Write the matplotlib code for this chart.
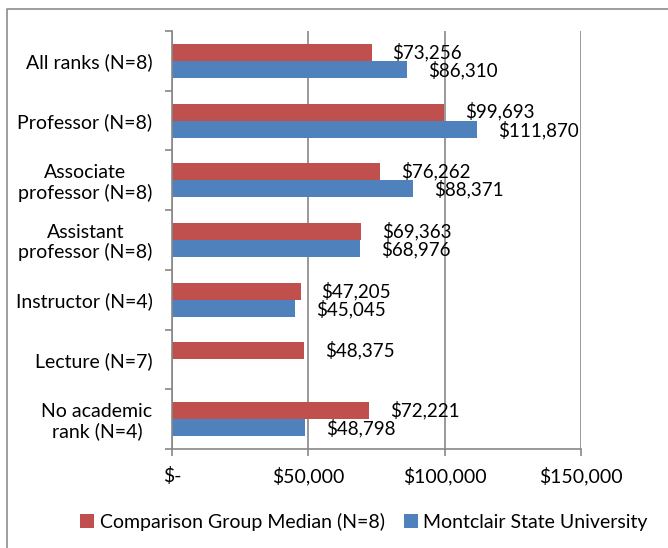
import matplotlib
matplotlib.use("Agg")
import matplotlib.pyplot as plt
from matplotlib.lines import Line2D
import numpy as np

categories = ["All ranks (N=8)", "Professor (N=8)", "Associate\nprofessor (N=8)",
              "Assistant\nprofessor (N=8)", "Instructor (N=4)", "Lecture (N=7)",
              "No academic\nrank (N=4)"]
comparison = [73256, 99693, 76262, 69363, 47205, 48375, 72221]
montclair = [86310, 111870, 88371, 68976, 45045, np.nan, 48798]
series_names = ["Comparison Group Median (N=8)", "Montclair State University"]
xticks = [0, 50000, 100000, 150000]
xticklabels = ["$-", "$50,000", "$100,000", "$150,000"]

RED = "#C0504D"
BLUE = "#4F81BD"
GRID = "#878787"

plt.rcParams['font.family'] = ['Lato', 'DejaVu Sans']

fig = plt.figure(figsize=(6.68, 5.48), dpi=100)
ax = fig.add_axes([172/668, 1-449/548, (581-172)/668, (449-31)/548])

y = np.arange(len(categories))
h = 0.285
ax.barh(y - h/2, comparison, height=h, color=RED, label=series_names[0])
ax.barh(y + h/2, montclair, height=h, color=BLUE, label=series_names[1])

for i, v in enumerate(comparison):
    if not np.isnan(v):
        ax.annotate(f"${v:,.0f}", (v, i - h/2 - 0.01), xytext=(15, 0),
                    textcoords="offset points", va="center", ha="left", fontsize=13.5)
for i, v in enumerate(montclair):
    if not np.isnan(v):
        ax.annotate(f"${v:,.0f}", (v, i + h/2 + 0.01), xytext=(15, 0),
                    textcoords="offset points", va="center", ha="left", fontsize=13.5)

ax.set_xlim(0, 150000)
ax.set_ylim(len(categories) - 0.5, -0.5)
ax.set_xticks(xticks)
ax.set_xticklabels(xticklabels, fontsize=14)
ax.set_yticks(y)
ax.set_yticklabels(categories, fontsize=14, multialignment="center", linespacing=1.15)
ax.set_yticks(np.arange(len(categories) + 1) - 0.5, minor=True)
ax.tick_params(axis="y", which="major", length=0, pad=14)
ax.tick_params(axis="y", which="minor", length=5, width=1.2, color=GRID, direction="out")
ax.tick_params(axis="x", length=5, width=1.2, color=GRID, direction="out", pad=8)

ax.grid(axis="x", color=GRID, linewidth=1.2)
ax.set_axisbelow(True)
for s in ["top", "right"]:
    ax.spines[s].set_visible(False)
for s in ["left", "bottom"]:
    ax.spines[s].set_color(GRID)
    ax.spines[s].set_linewidth(1.2)

# outer chart frame
fig.add_artist(Line2D([7/668, 7/668, 1.0], [0.0, 1-9/548, 1-9/548],
                      transform=fig.transFigure, color="#8C8C8C", linewidth=1.2))

handles, labels = ax.get_legend_handles_labels()
fig.legend(handles, labels, loc="center", bbox_to_anchor=(364/668, 1-522/548),
           ncol=2, frameon=False, fontsize=14, handlelength=0.7, handleheight=0.7,
           handletextpad=0.3, columnspacing=1.0)

fig.savefig("out.png", dpi=100)
